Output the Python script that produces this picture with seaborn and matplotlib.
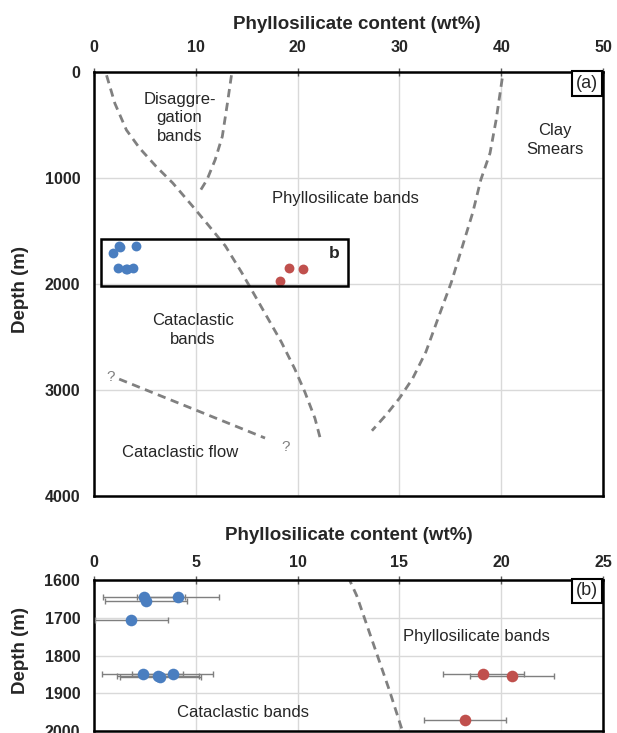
import matplotlib
matplotlib.use("Agg")
import matplotlib.pyplot as plt
import seaborn as sns
import numpy as np
import pandas as pd
from matplotlib.patches import Rectangle

# ---------------- data ----------------
blue_x = [2.46, 2.56, 4.13, 1.84, 2.39, 3.14, 3.26, 3.86]
blue_depth = [1645, 1655, 1645, 1707, 1850, 1855, 1857, 1850]
blue_err = [2.0, 2.0, 2.0, 1.8, 2.0, 2.0, 2.0, 2.0]

red_x = [19.13, 20.54, 18.23]
red_depth = [1850, 1854, 1971]
red_err = [2.0, 2.05, 2.0]

# boundary between cataclastic and phyllosilicate bands
cat_phyl_x = [1.23, 2.05, 3.18, 4.48, 6.10, 7.73, 9.68, 11.3, 12.9, 14.5, 15.8, 17.1, 18.4, 19.7, 20.7, 21.7, 22.3]
cat_phyl_d = [31, 297, 547, 719, 891, 1047, 1266, 1453, 1641, 1891, 2109, 2328, 2547, 2797, 3016, 3266, 3484]
# right boundary of disaggregation bands
disagg_x = [13.5, 13.1, 12.6, 11.9, 11.1, 10.3]
disagg_d = [31, 297, 609, 828, 1016, 1141]
# clay smear boundary
clay_x = [40.1, 39.5, 38.9, 38.0, 37.2, 36.2, 35.1, 33.9, 32.6, 31.3, 30.0, 28.7, 27.3]
clay_d = [62, 453, 766, 1016, 1328, 1641, 1984, 2297, 2641, 2891, 3078, 3234, 3384]
# cataclastic flow boundary
flow_x = [2.47, 16.8]
flow_d = [2897, 3453]

xticks_a = [0, 10, 20, 30, 40, 50]
yticks_a = [0, 1000, 2000, 3000, 4000]
xticks_b = [0, 5, 10, 15, 20, 25]
yticks_b = [1600, 1700, 1800, 1900, 2000]

# ---------------- style ----------------
sns.set_style("white")
plt.rcParams['font.family'] = ['Liberation Sans', 'DejaVu Sans']

BLUE = "#4a7ec0"
RED = "#c0504d"
DASH = "#808080"
GRID = "#d9d9d9"

fig = plt.figure(figsize=(6.17, 7.33), dpi=100)
ax_a = fig.add_axes([0.1524, 0.3233, 0.8249, 0.5785])
ax_b = fig.add_axes([0.1524, 0.0027, 0.8249, 0.2060])


def style_axes(ax, xticks, yticks, xpad, xlab_xy, ylab_xy):
    ax.set_xticks(xticks)
    ax.set_yticks(yticks)
    ax.xaxis.tick_top()
    ax.xaxis.set_label_position('top')
    ax.grid(True, color=GRID, linewidth=1.0)
    ax.set_axisbelow(True)
    for s in ax.spines.values():
        s.set_color('black')
        s.set_linewidth(1.8)
        s.set_visible(True)
    ax.tick_params(axis='both', which='major', direction='inout', length=6,
                   width=1.0, color='#595959', labelsize=11.5)
    ax.tick_params(axis='x', pad=xpad)
    ax.tick_params(axis='y', pad=7)
    for lab in ax.get_xticklabels() + ax.get_yticklabels():
        lab.set_fontweight('bold')
    ax.set_xlabel("Phyllosilicate content (wt%)", fontsize=13.5, fontweight='bold')
    ax.set_ylabel("Depth (m)", fontsize=13.5, fontweight='bold')
    ax.xaxis.set_label_coords(*xlab_xy)
    ax.xaxis.label.set_va('center')
    ax.yaxis.set_label_coords(*ylab_xy)
    ax.yaxis.label.set_va('center')
    ax.yaxis.label.set_ha('center')


def dashed(ax, x, y):
    sns.lineplot(x=x, y=y, ax=ax, sort=False, estimator=None, color=DASH,
                 linewidth=2.0, dashes=False, legend=False)
    ax.lines[-1].set_dashes([3, 2])


# ---------------- panel (a) ----------------
dashed(ax_a, cat_phyl_x, cat_phyl_d)
dashed(ax_a, disagg_x, disagg_d)
dashed(ax_a, clay_x, clay_d)
dashed(ax_a, flow_x, flow_d)

sns.scatterplot(x=blue_x, y=blue_depth, ax=ax_a, color=BLUE, s=50, edgecolor=BLUE, linewidth=0, zorder=5)
sns.scatterplot(x=red_x, y=red_depth, ax=ax_a, color=RED, s=50, edgecolor=RED, linewidth=0, zorder=5)

ax_a.add_patch(Rectangle((0.7, 1575), 24.25, 445, fill=False, edgecolor='black', linewidth=1.8, zorder=6))
ax_a.text(23.6, 1708, "b", fontsize=12.5, fontweight='bold', ha='center', va='center')

ax_a.set_xlim(0, 50)
ax_a.set_ylim(4000, 0)
style_axes(ax_a, xticks_a, yticks_a, xpad=9, xlab_xy=(0.517, 1.111), ylab_xy=(-0.145, 0.486))

txt = dict(fontsize=12, color='#262626', ha='center', va='center', linespacing=1.3)
ax_a.text(8.4, 434, "Disaggre-\ngation\nbands", **txt)
ax_a.text(24.7, 1189, "Phyllosilicate bands", **txt)
ax_a.text(45.3, 642, "Clay\nSmears", **txt)
ax_a.text(9.7, 2434, "Cataclastic\nbands", **txt)
ax_a.text(8.45, 3594, "Cataclastic flow", **txt)
ax_a.text(1.6, 2880, "?", fontsize=11, color='#808080', ha='center', va='center')
ax_a.text(18.8, 3540, "?", fontsize=11, color='#808080', ha='center', va='center')
ax_a.text(0.99, 0.993, "(a)", transform=ax_a.transAxes, fontsize=13, ha='right', va='top',
          bbox=dict(boxstyle='square,pad=0.2', facecolor='white', edgecolor='black', linewidth=1.5))

# ---------------- panel (b) ----------------
dashed(ax_b, cat_phyl_x, cat_phyl_d)
ax_b.errorbar(blue_x, blue_depth, xerr=blue_err, fmt='none', ecolor='#7f7f7f', elinewidth=1.0,
              capsize=2, capthick=1.0, zorder=4)
ax_b.errorbar(red_x, red_depth, xerr=red_err, fmt='none', ecolor='#7f7f7f', elinewidth=1.0,
              capsize=2, capthick=1.0, zorder=4)
sns.scatterplot(x=blue_x, y=blue_depth, ax=ax_b, color=BLUE, s=70, edgecolor=BLUE, linewidth=0, zorder=5)
sns.scatterplot(x=red_x, y=red_depth, ax=ax_b, color=RED, s=70, edgecolor=RED, linewidth=0, zorder=5)

ax_b.set_xlim(0, 25)
ax_b.set_ylim(2000, 1600)
style_axes(ax_b, xticks_b, yticks_b, xpad=4.5, xlab_xy=(0.5, 1.298), ylab_xy=(-0.145, 0.536))
ax_b.text(18.8, 1750, "Phyllosilicate bands", **txt)
ax_b.text(7.3, 1952, "Cataclastic bands", **txt)
ax_b.text(0.99, 0.985, "(b)", transform=ax_b.transAxes, fontsize=13, ha='right', va='top',
          bbox=dict(boxstyle='square,pad=0.2', facecolor='white', edgecolor='black', linewidth=1.5))

fig.savefig("out.png", dpi=100)
